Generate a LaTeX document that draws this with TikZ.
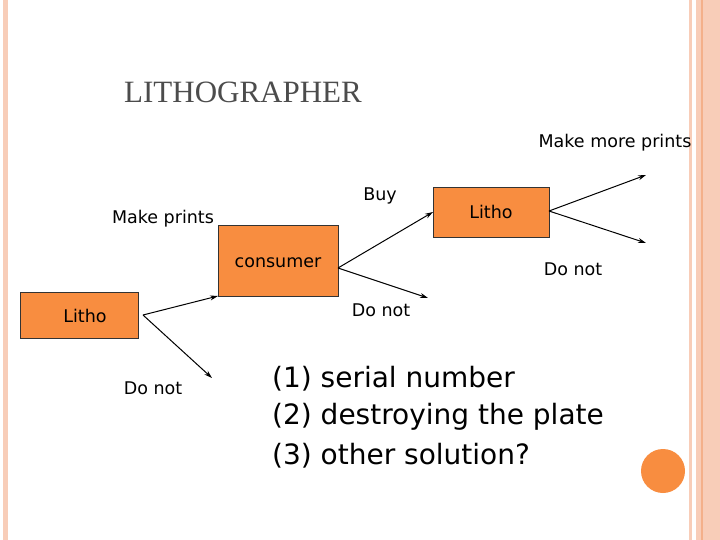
\documentclass[tikz,border=0pt]{standalone}
\usepackage{fontspec}
\setmainfont{DejaVu Sans}
\newfontfamily\serifti{Liberation Serif}
\usetikzlibrary{arrows.meta}
\definecolor{boxor}{HTML}{F88D40}
\definecolor{stripe}{HTML}{F8CDB8}
\definecolor{stripeD}{HTML}{F4B08A}
\begin{document}
\begin{tikzpicture}[x=1pt,y=-1pt,
  orbox/.style={draw=black!80,line width=0.6pt,fill=boxor,inner sep=0pt},
  lab/.style={font=\fontsize{17.5}{20}\selectfont,inner sep=0pt},
  item/.style={font=\fontsize{28}{32}\selectfont,inner sep=0pt,anchor=west},
  arr/.style={-{Stealth[length=8pt,width=5pt]},line width=1pt}]
\useasboundingbox (0,0) rectangle (720,540);
\fill[white] (0,0) rectangle (720,540);
\fill[stripe] (3,0) rectangle (8,540);
\fill[stripe] (689,0) rectangle (692,540);
\fill[stripe] (696,0) rectangle (720,540);
\fill[stripeD] (701,0) rectangle (703,540);
\node[font=\serifti\fontsize{31}{34}\selectfont,text=black!70,inner sep=0pt] (title) at (243,92) {LITHOGRAPHER};
\node[orbox,minimum width=118pt,minimum height=46pt] (l1) at (79,315) {};
\node[lab] (l1t) at (85,316) {Litho};
\node[orbox,minimum width=120pt,minimum height=71pt] (c) at (278,261) {};
\node[lab] (ct) at (278,263) {consumer};
\node[orbox,minimum width=116pt,minimum height=50pt] (l2) at (491,212) {};
\node[lab] (l2t) at (491,212) {Litho};
\coordinate (s1) at (143,315);
\coordinate (e1) at (218,296);
\coordinate (e2) at (212,378);
\coordinate (s2) at (338,268);
\coordinate (e3) at (433,212);
\coordinate (e4) at (428,298);
\coordinate (s3) at (549,211);
\coordinate (e5) at (646,175);
\coordinate (e6) at (646,243);
\draw[arr] (s1) -- (e1);
\draw[arr] (s1) -- (e2);
\draw[arr] (s2) -- (e3);
\draw[arr] (s2) -- (e4);
\draw[arr] (s3) -- (e5);
\draw[arr] (s3) -- (e6);
\node[lab] (mmp) at (615,143) {Make more prints};
\node[lab] (buy) at (380,196) {Buy};
\node[lab] (mp) at (163,219) {Make prints};
\node[lab] (dn1) at (573,269) {Do not};
\node[lab] (dn2) at (381,310) {Do not};
\node[lab] (dn3) at (153,388) {Do not};
\node[item] (i1) at (272,379) {(1) serial number};
\node[item] (i2) at (272,417) {(2) destroying the plate};
\node[item] (i3) at (272,456) {(3) other solution?};
\fill[boxor] (663,471) circle (22);
\end{tikzpicture}
\end{document}
